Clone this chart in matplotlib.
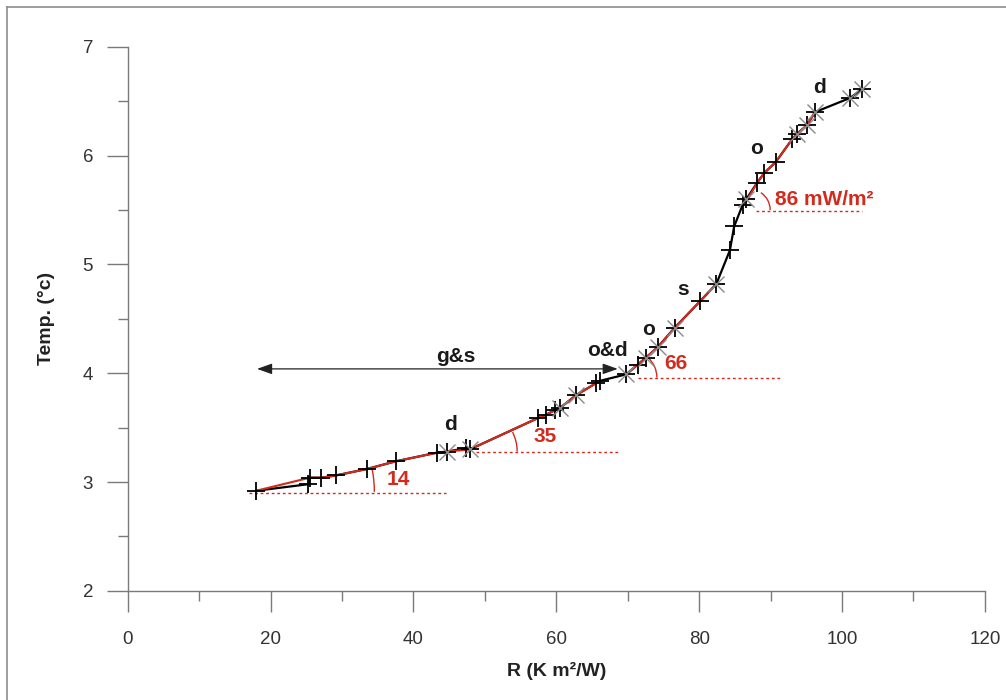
import math

import matplotlib
matplotlib.use("Agg")
import matplotlib.pyplot as plt
import matplotlib.transforms as mtransforms
from matplotlib.lines import Line2D
from matplotlib.patches import Arc

plt.rcParams.update({
    "font.family": ["Liberation Sans", "DejaVu Sans"],
    "font.size": 13,
})

# measured profile: thermal resistance vs temperature
R = [18.0, 25.3, 25.5, 27.1, 29.1, 33.5, 37.5, 43.3, 44.7, 47.3, 47.9,
     57.5, 58.6, 59.8, 60.5, 62.8, 65.6, 66.1, 69.8, 71.4, 72.5, 74.2,
     76.6, 80.1, 82.4, 84.3, 84.9, 86.1, 86.6, 88.1, 89.1, 90.7, 93.0,
     93.7, 95.1, 96.2, 101.1, 102.8]
T = [2.92, 2.98, 3.04, 3.04, 3.06, 3.12, 3.19, 3.27, 3.28, 3.31, 3.30,
     3.59, 3.62, 3.66, 3.68, 3.80, 3.91, 3.93, 3.99, 4.08, 4.14, 4.24,
     4.42, 4.66, 4.82, 5.13, 5.35, 5.55, 5.60, 5.75, 5.84, 5.94, 6.15,
     6.20, 6.28, 6.40, 6.53, 6.61]

# points with a second (grey) marker
GREY_R = [44.7, 47.9, 60.5, 62.8, 69.8, 72.5, 74.2, 76.6, 82.4, 86.6,
          93.7, 95.1, 96.2, 101.1, 102.8]
GREY_T = [3.28, 3.30, 3.68, 3.80, 3.99, 4.14, 4.24, 4.42, 4.82, 5.60,
          6.20, 6.28, 6.40, 6.53, 6.61]

# red fitted intervals
RED = [
    ([18.0, 25.5, 27.1, 29.1, 33.5, 37.5, 43.3, 44.7, 47.9],
     [2.92, 3.04, 3.04, 3.06, 3.12, 3.19, 3.27, 3.28, 3.30]),
    ([47.9, 57.5, 58.6, 59.8, 60.5, 62.8, 65.6, 66.1],
     [3.30, 3.59, 3.62, 3.66, 3.68, 3.80, 3.91, 3.93]),
    ([69.8, 71.4, 72.5, 74.2, 76.6, 80.1, 82.4],
     [3.99, 4.08, 4.14, 4.24, 4.42, 4.66, 4.82]),
    ([86.6, 88.1, 89.1, 90.7, 93.0, 93.7, 95.1, 96.2],
     [5.58, 5.75, 5.84, 5.94, 6.15, 6.20, 6.28, 6.40]),
]
# dotted baselines (x0, x1, T), angle arcs (centre, radius px, target point)
BASE = [(17.0, 44.6, 2.90), (48.8, 68.6, 3.28), (71.4, 91.4, 3.96),
        (87.9, 102.8, 5.49)]
ARCS = [((18.0, 2.91), 118, (47.9, 3.30)),
        ((48.5, 3.28), 43, (69.8, 3.99)),
        ((70.3, 3.96), 27, (82.4, 4.82)),
        ((87.0, 5.50), 21, (96.2, 6.40))]
GRAD = [("14", 37.9, 3.02), ("35", 58.4, 3.42), ("66", 76.8, 4.09),
        ("86 mW/m\u00b2", 90.6, 5.60)]
TAGS = [("d", 45.2, 3.53), ("o&d", 67.1, 4.21), ("o", 72.9, 4.40),
        ("s", 77.7, 4.77), ("o", 88.1, 6.07), ("d", 96.9, 6.63),
        ("g&s", 45.9, 4.15)]

RED_C = "#d42a1e"
AX_C = "#7a7a7a"

fig = plt.figure(figsize=(10.06, 7.0), dpi=100)
ax = fig.add_axes([0.127, 0.156, 0.852, 0.777])
ax.set_xlim(0, 120)
ax.set_ylim(2, 7)

for s in ("top", "right"):
    ax.spines[s].set_visible(False)
for s in ("left", "bottom"):
    ax.spines[s].set_color(AX_C)
    ax.spines[s].set_linewidth(1.0)

ax.set_xticks(range(0, 121, 20))
ax.set_xticks(range(10, 120, 20), minor=True)
ax.set_yticks(range(2, 8))
ax.set_yticks([2.5, 3.5, 4.5, 5.5, 6.5], minor=True)
ax.tick_params(which="major", length=15, width=1.0, color=AX_C,
               labelsize=13.5, labelcolor="#333")
ax.tick_params(axis="x", which="major", pad=14)
ax.tick_params(axis="y", which="major", pad=10)
ax.tick_params(which="minor", length=7, width=1.0, color=AX_C)
ax.set_xlabel("R (K m\u00b2/W)", fontsize=14, fontweight="bold", color="#222",
              labelpad=10)
ax.set_ylabel("Temp. (\u00b0c)", fontsize=14, fontweight="bold", color="#222",
              labelpad=20)

# dotted baselines
for x0, x1, t in BASE:
    ax.plot([x0, x1], [t, t], ls=(0, (2, 2)), color=RED_C, lw=1.0, zorder=2)

ax.plot(R, T, color="black", lw=1.6, zorder=3)
for rr, tt in RED:
    ax.plot(rr, tt, color=RED_C, lw=1.5, zorder=4)
ax.plot(R, T, ls="none", marker="+", ms=13, mew=1.3, color="black", zorder=5)
ax.plot(GREY_R, GREY_T, ls="none", marker="x", ms=11, mew=1.0,
        color="#8a8a8a", zorder=5)

# angle arcs, drawn in pixel space around each centre
for (cx, cy), rad, (px, py) in ARCS:
    p0 = ax.transData.transform((cx, cy))
    p1 = ax.transData.transform((px, py))
    ang = math.degrees(math.atan2(p1[1] - p0[1], p1[0] - p0[0]))
    tr = fig.dpi_scale_trans + mtransforms.ScaledTranslation(cx, cy, ax.transData)
    d = 2 * rad / fig.dpi
    ax.add_patch(Arc((0, 0), d, d, theta1=0, theta2=ang, transform=tr,
                     color=RED_C, lw=1.0, zorder=4))

for txt, x, y in GRAD:
    ax.text(x, y, txt, color=RED_C, fontsize=15, fontweight="bold",
            ha="left" if "mW" in txt else "center", va="center")
for txt, x, y in TAGS:
    ax.text(x, y, txt, color="#1a1a1a", fontsize=15, fontweight="bold",
            ha="center", va="center")

ax.annotate("", xy=(18.1, 4.04), xytext=(68.6, 4.04),
            arrowprops=dict(arrowstyle="<|-|>,head_length=0.7,head_width=0.25",
                            color="#222", lw=0.9, shrinkA=0, shrinkB=0))

# frame around the figure (top and left edges visible)
fig.add_artist(Line2D([7 / 1006, 1.0], [1 - 7 / 700, 1 - 7 / 700],
                      transform=fig.transFigure, color="#8c8c8c", lw=1.2))
fig.add_artist(Line2D([7 / 1006, 7 / 1006], [0, 1 - 7 / 700],
                      transform=fig.transFigure, color="#8c8c8c", lw=1.2))

fig.savefig("out.png", dpi=100)
